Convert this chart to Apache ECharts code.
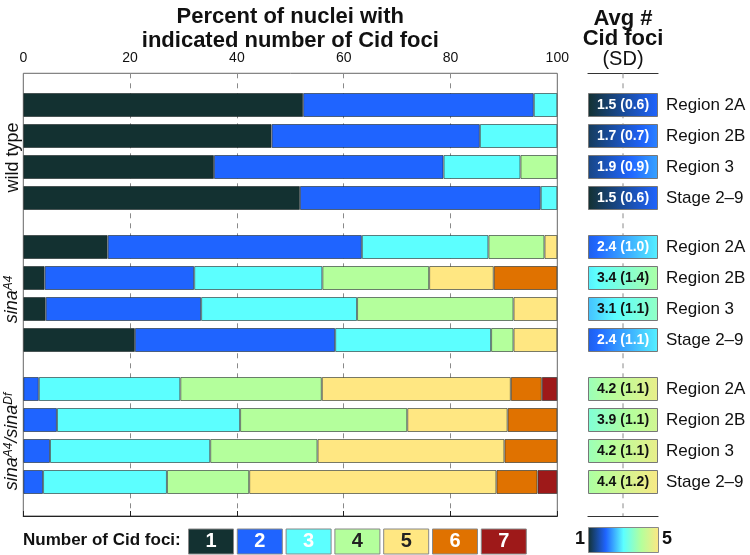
<!DOCTYPE html>
<html><head><meta charset="utf-8">
<script src="https://cdn.jsdelivr.net/npm/echarts@6/dist/echarts.min.js"></script>
<style>html,body{margin:0;padding:0;background:#fff}#c{width:750px;height:555px}</style>
</head><body><div id="c"></div>
<script>
// ---------- data ----------
const fociLabels = ['1', '2', '3', '4', '5', '6', '7'];
const fociColors = ['#133131', '#1f64ff', '#5cffff', '#b4ff9c', '#ffe782', '#e07200', '#9e1919'];
const stageLabels = ['Region 2A', 'Region 2B', 'Region 3', 'Stage 2–9'];
const groupNames = ['wild type', '{i|sina}{s|A4}', '{i|sina}{s|A4}{i|/sina}{s|Df}'];

// percent of nuclei with 1..7 foci, one row per stage
const wildTypePct = [
  [52.4, 43.2, 4.4, 0, 0, 0, 0],
  [46.5, 39.0, 14.5, 0, 0, 0, 0],
  [35.7, 43.0, 14.4, 6.9, 0, 0, 0],
  [51.8, 45.1, 3.1, 0, 0, 0, 0]
];
const sinaA4Pct = [
  [15.8, 47.6, 23.7, 10.5, 2.4, 0, 0],
  [4.0, 28.0, 24.0, 20.0, 12.1, 11.9, 0],
  [4.2, 29.1, 29.2, 29.3, 8.2, 0, 0],
  [20.9, 37.5, 29.2, 4.2, 8.2, 0, 0]
];
const sinaDfPct = [
  [0, 2.9, 26.5, 26.5, 35.4, 5.8, 2.9],
  [0, 6.3, 34.3, 31.3, 18.8, 9.3, 0],
  [0, 5.0, 30.0, 20.1, 35.0, 9.9, 0],
  [0, 3.7, 23.2, 15.4, 46.3, 7.7, 3.7]
];
const wildTypeAvg = [1.5, 1.7, 1.9, 1.5];
const wildTypeSD  = [0.6, 0.7, 0.9, 0.6];
const sinaA4Avg   = [2.4, 3.4, 3.1, 2.4];
const sinaA4SD    = [1.0, 1.4, 1.1, 1.1];
const sinaDfAvg   = [4.2, 3.9, 4.2, 4.4];
const sinaDfSD    = [1.1, 1.1, 1.1, 1.2];
const colorbarMin = 1, colorbarMax = 5;

// ---------- layout / style ----------
const FONT = '"Liberation Sans", Arial, Helvetica, sans-serif';
const groupPct = [wildTypePct, sinaA4Pct, sinaDfPct];
const groupAvg = [wildTypeAvg, sinaA4Avg, sinaDfAvg];
const groupSD = [wildTypeSD, sinaA4SD, sinaDfSD];
const plotL = 23.3, plotW = 534, frameTop = 73.3, frameH = 442.7;
const groupTops = [89.5, 231.5, 373.5], groupH = 124;
const boxL = 588, boxW = 70;

function hexToRgb(h) { return [1, 3, 5].map(i => parseInt(h.substr(i, 2), 16)); }
const cmapAnchors = fociColors.slice(0, 5).map(hexToRgb);
function cmap(v) {
  v = Math.max(colorbarMin, Math.min(colorbarMax, v));
  const p = (v - colorbarMin) / (colorbarMax - colorbarMin) * (cmapAnchors.length - 1);
  const i = Math.min(Math.floor(p), cmapAnchors.length - 2), t = p - i;
  const a = cmapAnchors[i], b = cmapAnchors[i + 1];
  return 'rgb(' + a.map((c, k) => Math.round(c + (b[k] - c) * t)).join(',') + ')';
}
function gradFor(mean) {
  const stops = [];
  for (let s = 0; s <= 8; s++) stops.push({ offset: s / 8, color: cmap(mean - 0.5 + s / 8) });
  return new echarts.graphic.LinearGradient(0, 0, 1, 0, stops);
}

const G = { outerBoundsMode: 'none', containLabel: false };
const grid = [Object.assign({ left: plotL, top: frameTop, width: plotW, height: frameH, show: true, borderColor: '#666', borderWidth: 1 }, G)];
groupTops.forEach(t => grid.push(Object.assign({ left: plotL, top: t, width: plotW, height: groupH }, G)));
grid.push(Object.assign({ left: boxL, top: frameTop, width: boxW, height: frameH }, G));
groupTops.forEach(t => grid.push(Object.assign({ left: boxL, top: t, width: boxW, height: groupH }, G)));
grid.push(Object.assign({ left: 186.6, top: 528.5, width: 341.6, height: 26 }, G));
grid.push(Object.assign({ left: boxL, top: frameTop + frameH - 10, width: boxW, height: 10 }, G));

const xAxis = [{
  gridIndex: 0, type: 'value', position: 'top', min: 0, max: 100, interval: 20,
  axisLine: { show: true, lineStyle: { color: '#222', width: 1.2 } },
  axisTick: { show: true, inside: false, length: 5, lineStyle: { color: '#222' } },
  axisLabel: { show: true, margin: 8, fontSize: 14, color: '#111', fontFamily: FONT },
  splitLine: { show: true, showMinLine: false, showMaxLine: false, lineStyle: { color: '#8a8a8a', type: [5, 5], width: 1 } }
}];
for (let g = 0; g < 3; g++) xAxis.push({ gridIndex: 1 + g, type: 'value', min: 0, max: 100, show: false });
xAxis.push({ gridIndex: 4, type: 'value', position: 'top', min: 0, max: 2, interval: 1,
  axisLine: { show: true, onZero: false, lineStyle: { color: '#333', width: 1.2 } }, axisTick: { show: false }, axisLabel: { show: false },
  splitLine: { show: false } });
for (let g = 0; g < 3; g++) xAxis.push({ gridIndex: 5 + g, type: 'value', min: 0, max: 1, show: false });
xAxis.push({ gridIndex: 8, type: 'category', data: fociLabels, show: false });
xAxis.push({ gridIndex: 9, type: 'value', position: 'bottom', min: 0, max: 2, interval: 1,
  axisLine: { show: true, onZero: false, lineStyle: { color: '#333', width: 1.2 } }, axisTick: { show: false }, axisLabel: { show: false },
  splitLine: { show: false } });

const richName = {
  i: { fontStyle: 'italic', fontSize: 18, color: '#111', fontFamily: FONT },
  s: { fontStyle: 'italic', fontSize: 12, color: '#111', fontFamily: FONT, verticalAlign: 'bottom', padding: [0, 0, 8, 0] }
};
const yAxis = [{ gridIndex: 0, type: 'value', show: false }];
for (let g = 0; g < 3; g++) yAxis.push({
  gridIndex: 1 + g, type: 'category', inverse: true, data: stageLabels,
  axisLine: { show: false }, axisTick: { show: false }, axisLabel: { show: false }, splitLine: { show: false },
  name: groupNames[g], nameLocation: 'middle', nameRotate: 90, nameGap: 1,
  nameTextStyle: { fontSize: 18, color: '#111', fontFamily: FONT, rich: richName, padding: [0, 12, 0, 0] }
});
yAxis.push({ gridIndex: 4, type: 'value', min: 0, max: 1, show: false });
for (let g = 0; g < 3; g++) yAxis.push({
  gridIndex: 5 + g, type: 'category', inverse: true, data: stageLabels, position: 'right',
  axisLine: { show: false }, axisTick: { show: false }, splitLine: { show: false },
  axisLabel: { show: true, margin: 8, fontSize: 17, color: '#111', fontFamily: FONT }
});
yAxis.push({ gridIndex: 8, type: 'value', min: 0, max: 1, show: false });
yAxis.push({ gridIndex: 9, type: 'value', min: 0, max: 1, show: false });

const series = [];
for (let g = 0; g < 3; g++) {
  for (let k = 0; k < fociLabels.length; k++) {
    series.push({
      type: 'bar', name: fociLabels[k], xAxisIndex: 1 + g, yAxisIndex: 1 + g, stack: 'grp' + g,
      barWidth: 24, data: groupPct[g].map(r => r[k] === 0 ? null : r[k]),
      itemStyle: { color: fociColors[k], borderColor: 'rgba(30,40,40,0.6)', borderWidth: 1 },
      silent: true
    });
  }
  series.push({
    type: 'bar', xAxisIndex: 5 + g, yAxisIndex: 5 + g, barWidth: 24, silent: true, z: 150,
    data: groupAvg[g].map((m, i) => ({
      value: 1,
      itemStyle: { color: gradFor(m), borderColor: '#777', borderWidth: 1 },
      label: {
        show: true, position: 'inside', fontFamily: FONT, fontWeight: 'bold', fontSize: 14,
        color: m < 2.9 ? '#fff' : '#111',
        formatter: m.toFixed(1) + ' (' + groupSD[g][i].toFixed(1) + ')'
      }
    }))
  });
}
series.push({
  type: 'bar', xAxisIndex: 8, yAxisIndex: 8, barWidth: 46, silent: true,
  data: fociLabels.map((l, k) => ({
    value: 1,
    itemStyle: { color: fociColors[k], borderColor: '#888', borderWidth: 1 },
    label: { show: true, position: 'inside', formatter: l, fontFamily: FONT, fontWeight: 'bold', fontSize: 20,
      color: (k === 3 || k === 4) ? '#222' : '#fff' }
  }))
});

const chart = echarts.init(document.getElementById('c'), null, { renderer: 'canvas' });
chart.setOption({
  animation: false,
  backgroundColor: '#fff',
  title: [
    { text: 'Percent of nuclei with\nindicated number of Cid foci', left: plotL + plotW / 2, textAlign: 'center', top: 5, padding: 0,
      textStyle: { fontSize: 22, fontWeight: 'bold', lineHeight: 24, color: '#111', fontFamily: FONT } },
    { text: 'Avg #\nCid foci', left: boxL + boxW / 2, textAlign: 'center', top: 9, padding: 0,
      textStyle: { fontSize: 22, fontWeight: 'bold', lineHeight: 20, color: '#111', fontFamily: FONT } },
    { text: '(SD)', left: boxL + boxW / 2, textAlign: 'center', top: 49, padding: 0,
      textStyle: { fontSize: 20, fontWeight: 'normal', lineHeight: 20, color: '#111', fontFamily: FONT } }
  ],
  grid, xAxis, yAxis, series,
  graphic: [
    { type: 'line', z: 100, silent: true,
      shape: { x1: boxL + boxW / 2, y1: frameTop, x2: boxL + boxW / 2, y2: frameTop + frameH },
      style: { stroke: '#8a8a8a', lineWidth: 1, lineDash: [5, 5] } },
    { type: 'text', left: 23, top: 532, style: { text: 'Number of Cid foci:', font: 'bold 17px ' + FONT, fill: '#111' } },
    { type: 'rect', left: boxL, top: 527, shape: { width: boxW, height: 25 },
      style: { fill: new echarts.graphic.LinearGradient(0, 0, 1, 0, cmapAnchors.map((c, i) => ({ offset: i / (cmapAnchors.length - 1), color: 'rgb(' + c.join(',') + ')' }))), stroke: '#888', lineWidth: 1 } },
    { type: 'text', left: 575, top: 530, style: { text: String(colorbarMin), font: 'bold 18px ' + FONT, fill: '#111' } },
    { type: 'text', left: 662, top: 530, style: { text: String(colorbarMax), font: 'bold 18px ' + FONT, fill: '#111' } }
  ]
});
</script></body></html>
